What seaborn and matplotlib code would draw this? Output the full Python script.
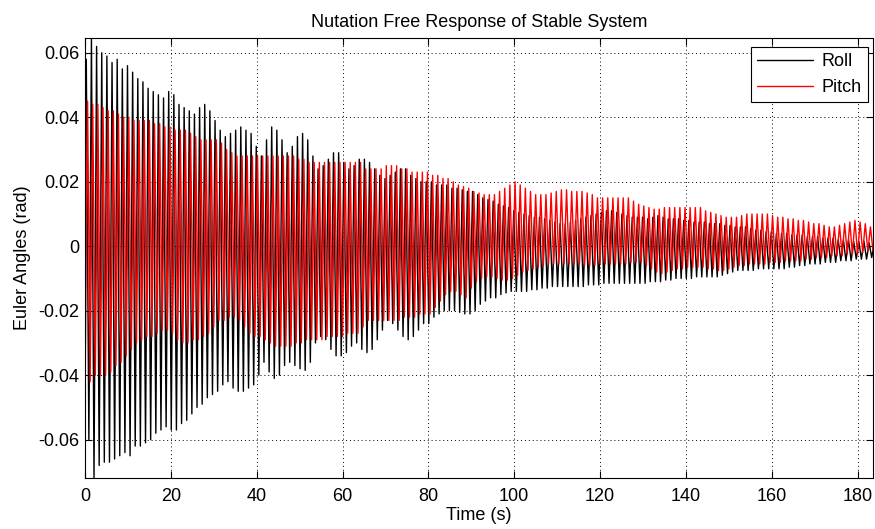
import numpy as np
import pandas as pd
import matplotlib
matplotlib.use("Agg")
import matplotlib.pyplot as plt
import seaborn as sns

# ---------------- data ----------------
title = "Nutation Free Response of Stable System"
x_label = "Time (s)"
y_label = "Euler Angles (rad)"
series_names = ["Roll", "Pitch"]
series_colors = ["black", "red"]
x_ticks = [0, 20, 40, 60, 80, 100, 120, 140, 160, 180]
y_ticks = [-0.06, -0.04, -0.02, 0, 0.02, 0.04, 0.06]
x_limits = [0, 183.6]
y_limits = [-0.0719, 0.0646]
cycle_period_s = 1.2

# per-cycle extremes, milliradians (one value per nutation cycle)
roll_peaks_mrad = [
    58, 64.5, 62, 60, 59, 57, 58, 55, 56, 54,
    52, 51, 49, 48, 47, 46, 48, 47, 44, 43,
    42, 41, 43, 44, 42, 39, 36, 34, 35, 36,
    37, 36, 35, 31, 28, 33, 37, 36, 33, 29,
    31, 34, 35, 33, 28, 24, 25, 27, 29, 29,
    26, 24, 25, 27, 27, 26, 24, 22, 21, 22,
    23, 24, 24, 22, 21, 20, 20, 20, 19, 19,
    19, 18, 18, 17.5, 17, 17, 16, 15, 14.5, 14,
    13, 12.5, 12, 11, 10.5, 10, 9.5, 9, 9, 8.5,
    8, 7.5, 7, 7, 7.5, 8, 8.5, 9, 9.5, 10,
    10.5, 11, 11, 10.5, 10, 9.5, 9, 9, 9, 8.5,
    9, 9.5, 9, 8.5, 8.5, 8.5, 8, 8, 7.5, 7.5,
    7.5, 7, 7, 7, 6.5, 6.5, 6, 6, 6, 5.5,
    5, 5, 4.5, 4.5, 4, 4, 4, 3.5, 3.5, 3.5,
    3, 3, 3, 2.5, 2.5, 2.5, 2, 2, 2, 1.5,
    1.5, 1.5, 1, 1,
]
roll_troughs_mrad = [
    -60, -71.9, -68, -67, -67, -66, -65, -64, -65, -62,
    -62, -61, -60, -58, -57, -56, -57, -57, -55, -54,
    -52, -50, -49, -47, -46, -45, -43, -42, -44, -45,
    -45, -44, -43, -40, -36, -39, -41, -40, -37, -36,
    -37, -38, -38.5, -36, -30, -28, -29, -32, -34, -34,
    -33, -31, -30, -32, -33, -32, -29, -26, -23, -24,
    -26, -28, -29, -28, -26, -24, -24, -22, -21, -20,
    -20, -20, -20.5, -21, -21, -20, -18, -17, -16, -16,
    -15, -14.5, -14, -14, -14, -14, -13.5, -13.5, -13, -13,
    -12.5, -12.5, -12.5, -12.5, -12.5, -12.5, -12.5, -12, -12, -12,
    -11.5, -11.5, -11.5, -11.5, -11.5, -11.5, -11.5, -11.5, -11.5, -11,
    -11, -11, -10.5, -10.5, -10, -10, -10, -10, -9.5, -9.5,
    -9.5, -9.5, -9.5, -9, -8.5, -8, -7.5, -7.5, -7.5, -7.5,
    -7, -7, -7, -7, -7, -7, -6.5, -6.5, -6, -6,
    -5.5, -5.5, -5.5, -5, -5, -5, -4.5, -4.5, -4.5, -4,
    -4, -4, -3.5, -3.5,
]
pitch_peaks_mrad = [
    45, 44, 44, 43, 42, 42, 41, 40, 40, 39,
    39, 39, 39, 38, 38, 37, 37, 36, 36, 36,
    35, 34, 33, 33, 33, 33, 32, 30, 29, 28,
    28, 28, 28, 28, 28, 28, 28, 28, 28, 28,
    28, 27, 27, 26, 26, 26, 26, 26, 26, 26,
    26, 26, 26, 26, 24, 24, 24, 24, 25, 25,
    25, 24, 24, 23, 23, 23, 23, 22, 22, 21,
    21, 20, 19, 18.5, 18, 17, 16.5, 16, 16, 16,
    17, 18, 19, 20, 19, 18, 17, 16, 16, 16,
    16.5, 17, 17.5, 17.5, 17, 17, 17, 16.5, 16, 15,
    15, 15, 15, 15, 15, 15, 14, 13, 12.5, 12,
    11.5, 11.5, 12, 12, 12, 12, 12, 12, 12, 12,
    11, 10.5, 10, 9.5, 9, 9, 9, 9.5, 10, 10,
    10, 10, 10, 9.5, 9, 9, 8.5, 8.5, 8, 8,
    7.5, 7, 7, 6.5, 6, 6, 6.5, 7, 7.5, 8,
    7.5, 7, 6, 5,
]
pitch_troughs_mrad = [
    -47, -42, -40, -40, -40, -39, -37, -36, -34, -32,
    -30, -29, -28, -28, -27, -26, -26, -27, -29, -30,
    -30, -29, -29, -28, -27, -25, -23, -23, -22, -22,
    -23, -25, -27, -28, -28, -29, -30, -31, -31, -31,
    -31, -30, -30, -29, -29, -29, -29, -28, -28, -28,
    -28, -27, -27, -27, -25, -23, -23, -23, -23, -23,
    -23, -23, -22, -22, -22, -21, -21, -21, -19, -17,
    -15, -14, -14, -15, -16, -13, -11, -10, -9.5, -9.5,
    -10, -10.5, -10.5, -10, -9, -8, -7.5, -7, -6.5, -6,
    -5.5, -5.5, -5.5, -5.5, -5.5, -5.5, -5.5, -6, -6, -6,
    -5.5, -5.5, -5.5, -5.5, -5.5, -5.5, -5, -5, -5, -6,
    -7, -8, -8.5, -8, -7.5, -7, -7, -6.5, -6.5, -6.5,
    -6.5, -7, -7, -7.5, -7.5, -7, -6.5, -6, -6, -5.5,
    -5.5, -5.5, -5.5, -5, -5, -5, -4.5, -4.5, -4.5, -4.5,
    -4, -4, -3.5, -3.5, -3.5, -3, -3, -3, -2.5, -2.5,
    -2.5, -2, -1.5, -1.5,
]


def zigzag(first, second, t0):
    vals = np.empty(2 * len(first))
    vals[0::2] = first
    vals[1::2] = second
    times = t0 + np.arange(len(vals)) * cycle_period_s / 2.0
    return times, vals / 1000.0


t_roll, v_roll = zigzag(roll_peaks_mrad, roll_troughs_mrad, 0.3)
t_pitch, v_pitch = zigzag(pitch_troughs_mrad, pitch_peaks_mrad, 0.0)

df = pd.concat([
    pd.DataFrame({"time": t_roll, "angle": v_roll, "series": series_names[0]}),
    pd.DataFrame({"time": t_pitch, "angle": v_pitch, "series": series_names[1]}),
], ignore_index=True)

# ---------------- style ----------------
sns.set_theme(style="ticks")
plt.rcParams["font.family"] = ["Liberation Sans", "DejaVu Sans"]
plt.rcParams["axes.unicode_minus"] = False
plt.rcParams["font.size"] = 13
plt.rcParams["text.color"] = "black"
plt.rcParams["axes.labelcolor"] = "black"
plt.rcParams["xtick.color"] = "black"
plt.rcParams["ytick.color"] = "black"

fig = plt.figure(figsize=(8.75, 5.29), dpi=100)
ax = fig.add_axes([85 / 875, 1 - 478 / 529, 788 / 875, 440 / 529])

sns.lineplot(data=df, x="time", y="angle", hue="series",
             palette=dict(zip(series_names, series_colors)),
             estimator=None, sort=False, linewidth=1.0, ax=ax)

ax.set_xlim(*x_limits)
ax.set_ylim(*y_limits)
ax.set_xticks(x_ticks)
ax.set_yticks(y_ticks)
ax.set_yticklabels([f"{v:g}" for v in y_ticks])
ax.set_xticklabels([f"{v:g}" for v in x_ticks])
ax.tick_params(direction="in", top=True, right=True, length=5, width=0.8,
               colors="black", labelcolor="black", labelsize=13)
ax.tick_params(axis="y", pad=4)
ax.tick_params(axis="x", pad=7)
ax.grid(True, color="black", linestyle=(0, (1, 3)), linewidth=0.7)
for s in ax.spines.values():
    s.set_color("black")
    s.set_linewidth(0.8)

ax.set_title(title, fontsize=13, pad=8, color="black")
ax.set_xlabel(x_label, fontsize=13, labelpad=2, color="black")
ax.set_ylabel(y_label, fontsize=13, labelpad=5, color="black")

leg = ax.legend(loc="upper right", bbox_to_anchor=(0.994, 0.98),
                borderaxespad=0, frameon=True, fancybox=False,
                handlelength=3.1, handletextpad=0.5, labelspacing=0.5,
                borderpad=0.35, fontsize=13)
leg.get_frame().set_edgecolor("black")
leg.get_frame().set_linewidth(0.8)
leg.get_frame().set_alpha(1)
for line in leg.get_lines():
    line.set_linewidth(1.0)
for txt in leg.get_texts():
    txt.set_color("black")

fig.savefig("out.png", dpi=100)
